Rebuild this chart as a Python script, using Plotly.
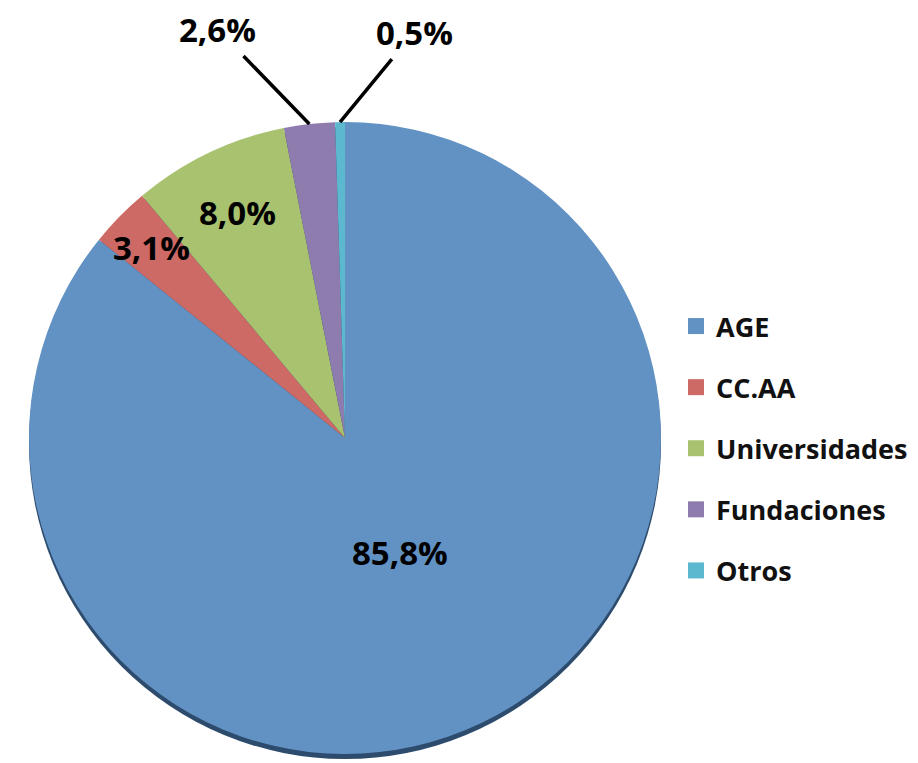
import math
import plotly.graph_objects as go

# Datos
categorias = ["AGE", "CC.AA", "Universidades", "Fundaciones", "Otros"]
porcentajes = [85.8, 3.1, 8.0, 2.6, 0.5]
colores = ["#6192c3", "#cd6a66", "#a8c26f", "#8e7cae", "#5bb8ce"]

# Geometría de la tarta (px de la captura; el body del html desplaza 8px)
W, H = 918, 763
OFF = 8
cx_px, cy_px, r_px = 345, 438, 316


def a_paper(x, y):
    """Convierte px de la captura a coordenadas paper"""
    return (x - OFF) / W, 1 - (y - OFF) / H


fuente = dict(family="Open Sans", size=33, color="#000000", weight=700)

fig = go.Figure()

x0, y1 = a_paper(cx_px - r_px, cy_px - r_px)
x1, y0 = a_paper(cx_px + r_px, cy_px + r_px)
fig.add_trace(
    go.Pie(
        labels=categorias,
        values=porcentajes,
        marker=dict(colors=colores, line=dict(width=0)),
        sort=False,
        direction="clockwise",
        rotation=0,
        textinfo="none",
        hoverinfo="label+percent",
        showlegend=False,
        domain=dict(x=[x0, x1], y=[y0, y1]),
    )
)

# Entradas de la leyenda (una por grupo para poder separar las filas)
for cat, col in zip(categorias, colores):
    fig.add_trace(
        go.Scatter(
            x=[None], y=[None], mode="markers", name=cat, legendgroup=cat,
            marker=dict(symbol="square", size=17, color=col),
        )
    )


def punto(angulo, f):
    """Posición (paper) a una fracción f del radio para un ángulo en grados (horario desde arriba)"""
    a = math.radians(angulo)
    x = cx_px + f * r_px * math.sin(a)
    y = cy_px - f * r_px * math.cos(a)
    return a_paper(x, y)


total = sum(porcentajes)
acumulado = 0
angulos_medios = []
for v in porcentajes:
    angulos_medios.append((acumulado + v / 2) / total * 360)
    acumulado += v

etiquetas = [f"{v:.1f}%".replace(".", ",") for v in porcentajes]

# Etiquetas dentro de los sectores
for i, f in zip([0, 1, 2], [0.4, 0.86, 0.79]):
    x, y = punto(angulos_medios[i], f)
    fig.add_annotation(x=x, y=y, xref="paper", yref="paper", text=etiquetas[i],
                       xanchor="center", yanchor="middle",
                       showarrow=False, font=fuente)

# Etiquetas exteriores con línea guía
for i, (ax, ay) in zip([3, 4], [(-92, -95), (74, -90)]):
    x, y = punto(angulos_medios[i], 1.0)
    fig.add_annotation(x=x, y=y, xref="paper", yref="paper", text=etiquetas[i],
                       showarrow=True, arrowhead=0, arrowwidth=3.5, arrowcolor="#000000",
                       ax=ax, ay=ay, borderpad=4, font=fuente)

# Sombra inferior
sx0, sy1 = a_paper(cx_px - r_px, cy_px - r_px + 5)
sx1, sy0 = a_paper(cx_px + r_px, cy_px + r_px + 5)
fig.add_shape(
    type="circle", xref="paper", yref="paper", layer="below",
    x0=sx0, x1=sx1, y0=sy0, y1=sy1,
    fillcolor="#2d4b6c", line=dict(width=0),
)

fig.update_xaxes(visible=False)
fig.update_yaxes(visible=False)

lx, ly = a_paper(676, 302)
fig.update_layout(
    width=W,
    height=H,
    margin=dict(l=0, r=0, t=0, b=0),
    paper_bgcolor="white",
    plot_bgcolor="rgba(0,0,0,0)",
    showlegend=True,
    legend=dict(
        x=lx, y=ly, xanchor="left", yanchor="top",
        font=dict(family="Open Sans", size=27, color="#111111", weight=700),
        tracegroupgap=23,
        bgcolor="rgba(0,0,0,0)",
    ),
)

fig.write_html("out.html")
